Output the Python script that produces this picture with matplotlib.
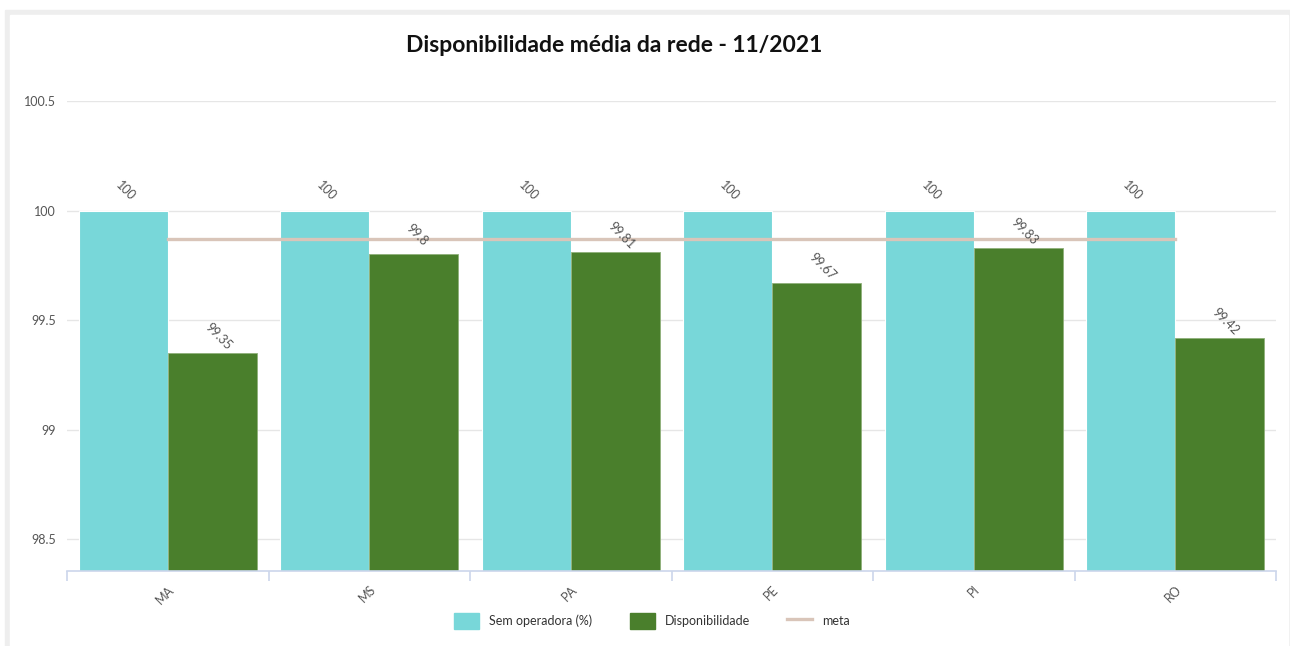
import numpy as np
import matplotlib.pyplot as plt
from matplotlib.patches import Rectangle
from matplotlib.lines import Line2D

# ==========================
# DATA
# ==========================

estados = ["MA", "MS", "PA", "PE", "PI", "RO"]
sem_operadora = [100, 100, 100, 100, 100, 100]
disponibilidade = [99.35, 99.8, 99.81, 99.67, 99.83, 99.42]
meta = [99.87, 99.87, 99.87, 99.87, 99.87, 99.87]
y_ticks = [98.5, 99, 99.5, 100, 100.5]

cor_sem = "#78D7D9"
cor_disp = "#4A7F2C"
cor_meta = "#D9C5B9"
cor_texto = "#555555"

plt.rcParams["font.family"] = ["Lato", "DejaVu Sans"]

W, H = 1290, 646
fig = plt.figure(figsize=(W / 100, H / 100), dpi=100)

# moldura cinza clara
fig.patches.append(Rectangle((5 / W, 0), 1 - 5 / W, 1 - 10 / H,
                             transform=fig.transFigure, color="#EEEEEE", zorder=-2))
fig.patches.append(Rectangle((10 / W, 0), 1278 / W, 1 - 15 / H,
                             transform=fig.transFigure, color="white", zorder=-1))

ax = fig.add_axes([67 / W, 75 / H, 1209 / W, 470 / H])
ax.set_zorder(1)
ax.patch.set_alpha(0)

x = np.arange(len(estados))
bw = 0.442

b1 = ax.bar(x - bw / 2, sem_operadora, bw, color=cor_sem, edgecolor="white",
            linewidth=0.8, zorder=2, label="Sem operadora (%)")
b2 = ax.bar(x + bw / 2, disponibilidade, bw, color=cor_disp, edgecolor="#8FB07A",
            linewidth=0.6, zorder=2, label="Disponibilidade")
ax.plot(x, meta, color=cor_meta, linewidth=2.4, zorder=3, label="meta")

# rótulos dos valores
for bars, vals in [(b1, sem_operadora), (b2, disponibilidade)]:
    for b, v in zip(bars, vals):
        ax.annotate(f"{v:g}", (b.get_x() + b.get_width() / 2, v),
                    xytext=(-4, 20), textcoords="offset points",
                    rotation=-45, rotation_mode="anchor", ha="left", va="center",
                    fontsize=9, color=cor_texto, zorder=4, annotation_clip=False)

ax.set_xlim(-0.5, len(estados) - 0.5)
ax.set_ylim(98.354, 100.5)
ax.set_yticks(y_ticks)
ax.set_yticklabels([f"{v:g}" for v in y_ticks])
ax.yaxis.grid(True, color="#E6E6E6", linewidth=1, zorder=0)
ax.set_axisbelow(True)
ax.tick_params(axis="y", length=0, pad=8, labelsize=9, labelcolor=cor_texto)

# ticks nas divisas, rótulos no centro
ax.set_xticks(np.arange(len(estados) + 1) - 0.5)
ax.set_xticklabels([])
ax.set_xticks(x, minor=True)
ax.set_xticklabels(estados, minor=True, rotation=45, ha="right",
                   rotation_mode="anchor", fontsize=9, color=cor_texto)
ax.tick_params(axis="x", which="major", length=7, color="#CCD6EB", width=1.2)
ax.tick_params(axis="x", which="minor", length=0, pad=9)

for s in ["top", "right", "left"]:
    ax.spines[s].set_visible(False)
ax.spines["bottom"].set_color("#CCD6EB")
ax.spines["bottom"].set_linewidth(1.2)

fig.text(614 / W, 1 - 46 / H, "Disponibilidade média da rede - 11/2021",
         ha="center", va="center", fontsize=16.5, fontweight="bold", color="#111111")

handles = [Rectangle((0, 0), 1, 1, color=cor_sem),
           Rectangle((0, 0), 1, 1, color=cor_disp),
           Line2D([0], [0], color=cor_meta, linewidth=2.4)]
fig.legend(handles, ["Sem operadora (%)", "Disponibilidade", "meta"],
           loc="center", bbox_to_anchor=(652 / W, 1 - 621 / H), ncol=3,
           frameon=False, fontsize=9, handlelength=2.0, handleheight=1.6,
           columnspacing=3.0, handletextpad=0.8, labelcolor="#333333")

plt.savefig("out.png", dpi=100)
